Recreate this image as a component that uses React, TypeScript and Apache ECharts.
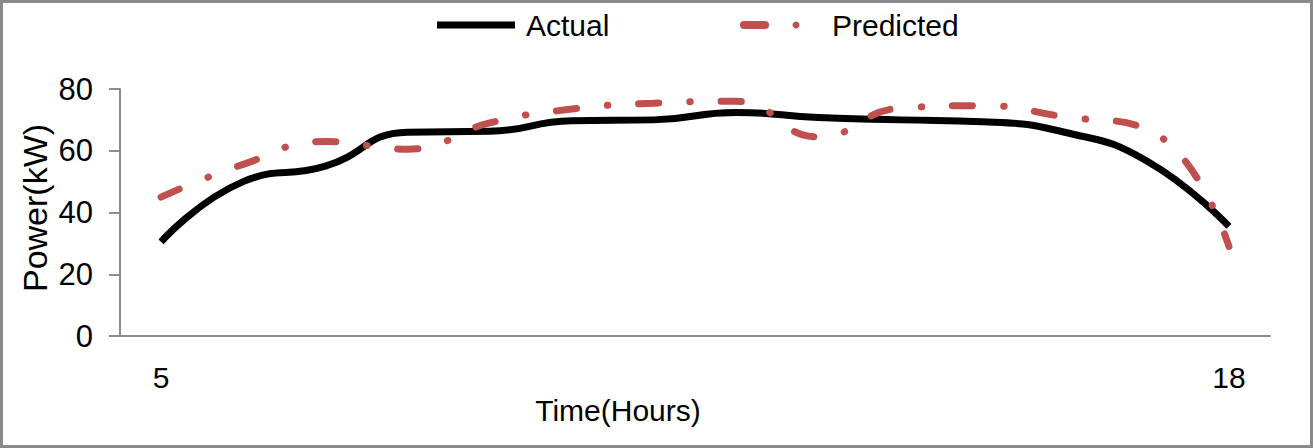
import { useEffect, useRef } from "react";
import * as echarts from "echarts";

const hours = ["5", "6", "7", "8", "9", "10", "11", "12", "13", "14", "15", "16", "17", "18"];
const actual = [30.5, 50, 55, 66, 66.3, 69.7, 70, 72.4, 70.8, 70, 69.4, 66, 56.7, 35.5];
const predicted = [45, 55.6, 63, 60.5, 69, 73.5, 75.4, 76, 64.5, 73.8, 74.6, 71, 67, 29];
const shownHourLabels = ["5", "18"];
const seriesNames = ["Actual", "Predicted"];
const xAxisTitle = "Time(Hours)";
const yAxisTitle = "Power(kW)";

const FONT = "'Liberation Sans', Arial, sans-serif";
const RED = "#c0504d";

export default function App() {
  const ref = useRef<HTMLDivElement>(null);
  useEffect(() => {
    document.body.style.margin = "0";
    const chart = echarts.init(ref.current!, null, { renderer: "svg" });
    chart.setOption({
      animation: false,
      backgroundColor: "#ffffff",
      textStyle: { fontFamily: FONT },
      graphic: [
        {
          type: "line",
          shape: { x1: 437, y1: 25, x2: 515, y2: 25 },
          style: { stroke: "#000", lineWidth: 7 },
        },
        {
          type: "text",
          x: 526,
          y: 25,
          style: {
            text: seriesNames[0],
            fontSize: 30,
            fontFamily: FONT,
            fill: "#000",
            verticalAlign: "middle",
            align: "left",
          },
        },
        {
          type: "line",
          shape: { x1: 744, y1: 25, x2: 765, y2: 25 },
          style: { stroke: RED, lineWidth: 8, lineCap: "round" },
        },
        {
          type: "circle",
          shape: { cx: 796, cy: 25, r: 3.5 },
          style: { fill: RED },
        },
        {
          type: "text",
          x: 832,
          y: 25,
          style: {
            text: seriesNames[1],
            fontSize: 30,
            fontFamily: FONT,
            fill: "#000",
            verticalAlign: "middle",
            align: "left",
          },
        },
        {
          type: "text",
          x: 618,
          y: 410,
          style: {
            text: xAxisTitle,
            fontSize: 30,
            fontFamily: FONT,
            fill: "#000",
            verticalAlign: "middle",
            align: "center",
          },
        },
        {
          type: "text",
          x: 35,
          y: 208,
          rotation: Math.PI / 2,
          style: {
            text: yAxisTitle,
            fontSize: 34,
            fontFamily: FONT,
            fill: "#000",
            verticalAlign: "middle",
            align: "center",
          },
        },
      ],
      grid: { left: 120, right: 43, top: 89, bottom: 112 },
      xAxis: {
        type: "category",
        data: hours,
        boundaryGap: true,
        axisLine: { lineStyle: { color: "#8c8c8c", width: 2 } },
        axisTick: { show: false },
        axisLabel: {
          interval: (_i: number, v: string) => shownHourLabels.includes(v),
          fontSize: 30,
          color: "#000",
          margin: 26,
          fontFamily: FONT,
        },
        splitLine: { show: false },
      },
      yAxis: {
        type: "value",
        min: 0,
        max: 80,
        interval: 20,
        axisLine: { show: true, lineStyle: { color: "#8c8c8c", width: 2 } },
        axisTick: { show: true, length: 11, lineStyle: { color: "#8c8c8c", width: 2 } },
        axisLabel: { fontSize: 31, color: "#000", margin: 27, fontFamily: FONT },
        splitLine: { show: false },
      },
      series: [
        {
          name: seriesNames[0],
          type: "line",
          data: actual,
          smooth: 0.5,
          showSymbol: false,
          symbol: "none",
          itemStyle: { color: "#000000" },
          lineStyle: { color: "#000000", width: 7 },
        },
        {
          name: seriesNames[1],
          type: "line",
          data: predicted,
          smooth: 0.5,
          showSymbol: false,
          symbol: "none",
          itemStyle: { color: RED },
          lineStyle: {
            color: RED,
            width: 7,
            type: [20, 31, 0.5, 31],
            cap: "round",
          },
        },
      ],
    });
    return () => chart.dispose();
  }, []);
  return (
    <div
      style={{
        position: "fixed",
        left: 0,
        top: 0,
        width: 1313,
        height: 448,
        background: "#fff",
      }}
    >
      <div ref={ref} style={{ position: "absolute", left: 0, top: 0, width: 1313, height: 448 }} />
      <div
        style={{
          position: "absolute",
          left: 0,
          top: 0,
          width: 1313,
          height: 448,
          boxSizing: "border-box",
          border: "3px solid #8a8a8a",
          pointerEvents: "none",
        }}
      />
    </div>
  );
}
